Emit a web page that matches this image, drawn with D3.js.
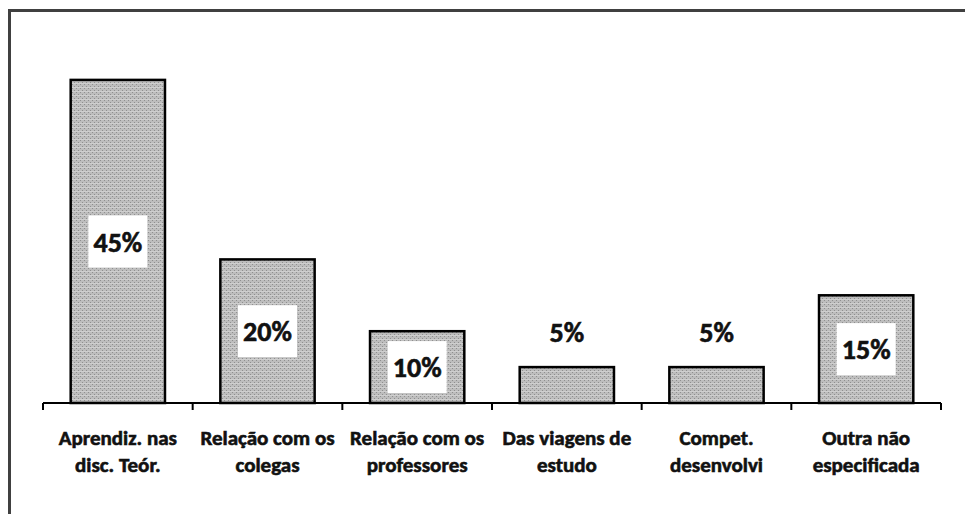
<!DOCTYPE html>
<html>
<head>
<meta charset="utf-8">
<script src="https://cdn.jsdelivr.net/npm/d3@7"></script>
<style>
  html, body { margin: 0; padding: 0; background: #fff; overflow: hidden; }
  text { font-family: Carlito, Calibri, Lato, "Open Sans", sans-serif; font-weight: bold; fill: #111; stroke: #111; stroke-width: 0.6px; }
</style>
</head>
<body>
<div id="chart"></div>
<script>
// Categorias (quebradas em duas linhas) e valores em %
const categories = ['Aprendiz. nas disc. Teór.', 'Relação com os colegas', 'Relação com os professores', 'Das viagens de estudo', 'Compet. desenvolvi', 'Outra não especificada'];
const categoryLines = [
    ['Aprendiz. nas', 'disc. Teór.'],
    ['Relação com os', 'colegas'],
    ['Relação com os', 'professores'],
    ['Das viagens de', 'estudo'],
    ['Compet.', 'desenvolvi'],
    ['Outra não', 'especificada']
];
const values = [45, 20, 10, 5, 5, 15];
const valueLabels = ['45%', '20%', '10%', '5%', '5%', '15%'];

const width = 965;
const height = 514;

const svg = d3.select('#chart')
    .append('svg')
    .attr('width', width)
    .attr('height', height);

// Textura cinzenta das barras
const defs = svg.append('defs');
const pat = defs.append('pattern')
    .attr('id', 'dots')
    .attr('width', 4)
    .attr('height', 4)
    .attr('patternUnits', 'userSpaceOnUse');
pat.append('rect').attr('width', 4).attr('height', 4).attr('fill', '#bdbdbd');
pat.append('rect').attr('x', 0).attr('y', 0).attr('width', 1).attr('height', 1).attr('fill', '#8f8f8f');
pat.append('rect').attr('x', 2).attr('y', 2).attr('width', 1).attr('height', 1).attr('fill', '#8f8f8f');
pat.append('rect').attr('x', 0).attr('y', 3).attr('width', 4).attr('height', 1).attr('fill', '#cfcfcf');

// Moldura exterior
svg.append('rect')
    .attr('x', 9.5)
    .attr('y', 10.5)
    .attr('width', width + 20)
    .attr('height', height + 20)
    .attr('fill', 'none')
    .attr('stroke', '#404040')
    .attr('stroke-width', 3);

const left = 43, right = 941, baseline = 403;

const x = d3.scaleBand()
    .domain(categories)
    .range([left, right])
    .paddingInner(0.37)
    .paddingOuter(0.185);

const y = d3.scaleLinear()
    .domain([0, 50])
    .range([baseline, 44]);

const step = x.step();
const gap = step * 0.37 / 2;

// Barras
svg.append('g')
    .selectAll('rect')
    .data(values)
    .join('rect')
    .attr('x', (d, i) => x(categories[i]))
    .attr('y', d => y(d))
    .attr('width', x.bandwidth())
    .attr('height', d => y(0) - y(d))
    .attr('fill', 'url(#dots)')
    .attr('stroke', '#000')
    .attr('stroke-width', 2.5);

// Eixo X
const axis = svg.append('g');
axis.append('line')
    .attr('x1', left)
    .attr('x2', right)
    .attr('y1', baseline)
    .attr('y2', baseline)
    .attr('stroke', '#000')
    .attr('stroke-width', 2);
const tickPos = categories.map(c => x(c) - gap).concat([right]);
axis.selectAll('line.tick')
    .data(tickPos)
    .join('line')
    .attr('class', 'tick')
    .attr('x1', d => d)
    .attr('x2', d => d)
    .attr('y1', baseline)
    .attr('y2', baseline + 7)
    .attr('stroke', '#000')
    .attr('stroke-width', 2);

// Rotulos das categorias
const catG = svg.append('g')
    .selectAll('text')
    .data(categoryLines)
    .join('text')
    .attr('text-anchor', 'middle')
    .attr('font-size', 21)
    .attr('transform', (d, i) => `translate(${x(categories[i]) + x.bandwidth() / 2},0)`);
catG.selectAll('tspan')
    .data(d => d)
    .join('tspan')
    .attr('x', 0)
    .attr('y', (d, j) => 445 + j * 27)
    .text(d => d);

// Rotulos dos valores (caixa branca)
const boxW = 59, boxH = 52;
const labels = svg.append('g')
    .selectAll('g')
    .data(values)
    .join('g')
    .attr('transform', (d, i) => {
        const cx = x(categories[i]) + x.bandwidth() / 2;
        const barH = y(0) - y(d);
        const cy = barH > boxH + 6 ? (y(d) + y(0)) / 2 : y(d) - 9 - boxH / 2;
        return `translate(${cx},${cy})`;
    });
labels.append('rect')
    .attr('x', -boxW / 2)
    .attr('y', -boxH / 2)
    .attr('width', boxW)
    .attr('height', boxH)
    .attr('fill', '#fff');
labels.append('text')
    .attr('text-anchor', 'middle')
    .attr('dy', '0.36em')
    .attr('font-size', 28)
    .text((d, i) => valueLabels[i]);
</script>
</body>
</html>
